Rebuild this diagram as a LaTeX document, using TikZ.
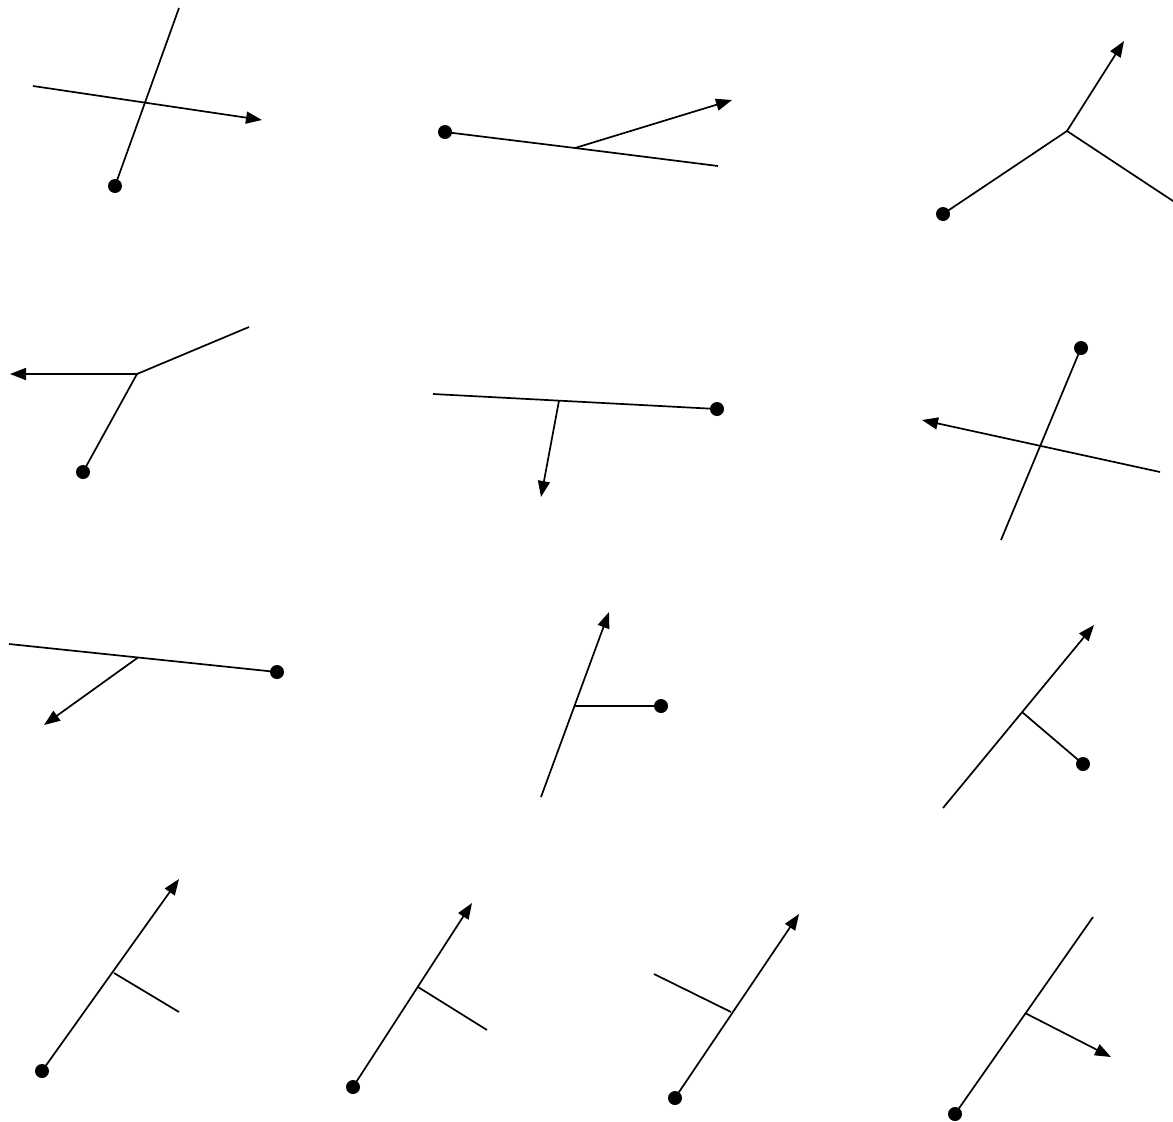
\documentclass[tikz,border=0pt]{standalone}
\usetikzlibrary{arrows.meta}
\tikzset{
  seg/.style={line width=1.7pt, line cap=butt},
  arr/.style={seg, -{Triangle[length=16pt,width=12pt]}},
  dotnode/.style={circle, fill=black, inner sep=0pt, minimum size=14pt},
}
\begin{document}
\begin{tikzpicture}[x=1pt,y=-1pt]
\useasboundingbox (0,0) rectangle (1173,1122);
% panel 1
\node[dotnode] (d1) at (115,186) {};
\coordinate (a1) at (179,8);
\coordinate (b1) at (33,86);
\coordinate (t1) at (262,120);
\draw[seg] (a1) -- (d1.center);
\draw[arr] (b1) -- (t1);
% panel 2
\node[dotnode] (d2) at (445,132) {};
\coordinate (j2) at (575,148);
\coordinate (e2) at (718,166);
\coordinate (t2) at (732,100);
\draw[seg] (d2.center) -- (j2) -- (e2);
\draw[arr] (j2) -- (t2);
% panel 3
\node[dotnode] (d3) at (943,214) {};
\coordinate (j3) at (1067,131);
\coordinate (e3) at (1176,203);
\coordinate (t3) at (1124,41);
\draw[seg] (d3.center) -- (j3) -- (e3);
\draw[arr] (j3) -- (t3);
% panel 4
\node[dotnode] (d4) at (83,472) {};
\coordinate (j4) at (137,374);
\coordinate (e4) at (249,327);
\coordinate (t4) at (10,374);
\draw[seg] (d4.center) -- (j4) -- (e4);
\draw[arr] (j4) -- (t4);
% panel 5
\node[dotnode] (d5) at (717,409) {};
\coordinate (s5) at (433,394);
\coordinate (j5) at (559,400.6);
\coordinate (t5) at (541,497);
\draw[seg] (s5) -- (d5.center);
\draw[arr] (j5) -- (t5);
% panel 6
\node[dotnode] (d6) at (1081,348) {};
\coordinate (e6) at (1001,540);
\coordinate (s6) at (1160,472);
\coordinate (t6) at (922,420);
\draw[seg] (d6.center) -- (e6);
\draw[arr] (s6) -- (t6);
% panel 7
\node[dotnode] (d7) at (277,672) {};
\coordinate (s7) at (9,644);
\coordinate (j7) at (138,657.5);
\coordinate (t7) at (44,725);
\draw[seg] (s7) -- (d7.center);
\draw[arr] (j7) -- (t7);
% panel 8
\node[dotnode] (d8) at (661,706) {};
\coordinate (s8) at (541,797);
\coordinate (t8) at (609,612);
\coordinate (j8) at (574.5,706);
\draw[arr] (s8) -- (t8);
\draw[seg] (j8) -- (d8.center);
% panel 9
\node[dotnode] (d9) at (1083,764) {};
\coordinate (s9) at (943,808);
\coordinate (t9) at (1094,625);
\coordinate (j9) at (1022,712);
\draw[arr] (s9) -- (t9);
\draw[seg] (j9) -- (d9.center);
% panel 10
\node[dotnode] (d10) at (42,1071) {};
\coordinate (t10) at (179,879);
\coordinate (j10) at (114,973);
\coordinate (e10) at (179,1012);
\draw[arr] (d10.center) -- (t10);
\draw[seg] (j10) -- (e10);
% panel 11
\node[dotnode] (d11) at (353,1087) {};
\coordinate (t11) at (472,903);
\coordinate (j11) at (418,987);
\coordinate (e11) at (487,1030);
\draw[arr] (d11.center) -- (t11);
\draw[seg] (j11) -- (e11);
% panel 12
\node[dotnode] (d12) at (675,1098) {};
\coordinate (t12) at (799,914);
\coordinate (j12) at (731,1012);
\coordinate (e12) at (654,974);
\draw[arr] (d12.center) -- (t12);
\draw[seg] (j12) -- (e12);
% panel 13
\node[dotnode] (d13) at (955,1114) {};
\coordinate (e13) at (1093,917);
\coordinate (j13) at (1025,1013);
\coordinate (t13) at (1111,1057);
\draw[seg] (d13.center) -- (e13);
\draw[arr] (j13) -- (t13);
\end{tikzpicture}
\end{document}
